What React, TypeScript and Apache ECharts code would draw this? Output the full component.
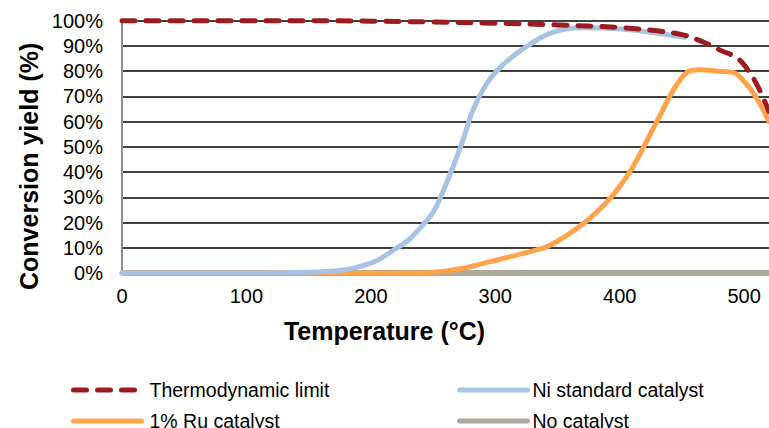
import React, { useEffect, useRef } from "react";
import * as echarts from "echarts";

// Temperature (°C) / conversion yield (%) readings
const thermoT = [0, 50, 100, 150, 200, 250, 300, 350, 400, 430, 450, 465, 480, 495, 505, 512, 520];
const thermoV = [100, 100, 100, 100, 99.8, 99.5, 99, 98.3, 97.3, 96, 94.5, 92, 88.5, 85, 79, 73, 64];

const niT = [0, 100, 150, 175, 190, 205, 218, 230, 240, 250, 256, 266, 274, 282, 293, 304, 320, 344, 371, 398, 425, 452];
const niV = [0, 0, 0.3, 1, 2.4, 5, 9, 13, 18, 24, 30, 42, 52.6, 64.5, 75, 81.5, 88, 95, 97.2, 96.8, 95.4, 93.4];

const ruT = [0, 240, 255, 275, 296, 320, 344, 371, 393, 409, 422, 433, 443, 454, 465, 479, 491, 500, 511, 520];
const ruV = [0, 0, 0.5, 2, 4.5, 7.5, 11, 19.7, 30, 40.8, 52.6, 63, 72.4, 79.5, 80.6, 80, 79.5, 76, 68.5, 60];

const noneT = [0, 520];
const noneV = [0, 0];

const seriesNames = ["Thermodynamic limit", "Ni standard catalyst", "1% Ru catalyst", "No catalyst"];
const xTicks = { min: 0, max: 520, interval: 100 };
const yTicks = { min: 0, max: 100, interval: 10 };

const pair = (xs: number[], ys: number[]) => xs.map((x, i) => [x, ys[i]]);

const FONT = "Liberation Sans, Arial, sans-serif";

const legendFor = (name: string, left: number, top: number, textPad: number) => ({
  left,
  top,
  padding: 0,
  orient: "horizontal",
  itemWidth: 68,
  itemHeight: 14,
  data: [name],
  itemStyle: { opacity: 0 },
  lineStyle: { width: 5, cap: "round" },
  textStyle: { color: "#000", fontSize: 19.5, fontFamily: FONT, padding: [0, 0, 0, textPad] },
});

export default function App() {
  const ref = useRef<HTMLDivElement>(null);
  useEffect(() => {
    if (!ref.current) return;
    const chart = echarts.init(ref.current, undefined, { renderer: "svg" });
    chart.setOption({
      animation: false,
      backgroundColor: "#ffffff",
      textStyle: { fontFamily: FONT },
      grid: { left: 122, top: 20.7, right: 0, bottom: 155, containLabel: false },
      xAxis: {
        type: "value",
        min: xTicks.min,
        max: xTicks.max,
        interval: xTicks.interval,
        axisLine: { show: false },
        axisTick: { show: false },
        splitLine: { show: false },
        axisLabel: { color: "#000", fontSize: 20, fontFamily: FONT, margin: 13, showMaxLabel: false },
      },
      yAxis: {
        type: "value",
        min: yTicks.min,
        max: yTicks.max,
        interval: yTicks.interval,
        axisLine: { show: true, lineStyle: { color: "#8c8c8c", width: 2 } },
        axisTick: { show: false },
        splitLine: { show: true, lineStyle: { color: "#000", width: 1.5 } },
        axisLabel: { color: "#000", fontSize: 20, fontFamily: FONT, margin: 19, formatter: "{value}%" },
      },
      legend: [
        legendFor(seriesNames[0], 71, 380, 3),
        legendFor(seriesNames[2], 71, 411, 3),
        legendFor(seriesNames[1], 457, 380, 0),
        legendFor(seriesNames[3], 457, 411, 0),
      ],
      graphic: [
        {
          type: "text",
          left: "center",
          top: 318,
          style: { text: "Temperature (°C)", font: `bold 25px ${FONT}`, fill: "#000" },
        },
        {
          type: "text",
          x: 16,
          y: 290,
          rotation: Math.PI / 2,
          style: { text: "Conversion yield (%)", font: `bold 25px ${FONT}`, fill: "#000", verticalAlign: "top" },
        },
      ],
      series: [
        {
          name: seriesNames[3],
          type: "line",
          data: pair(noneT, noneV),
          symbol: "none",
          clip: false,
          z: 2,
          lineStyle: { color: "#ada99e", width: 6 },
          itemStyle: { color: "#ada99e" },
        },
        {
          name: seriesNames[2],
          type: "line",
          data: pair(ruT, ruV),
          symbol: "none",
          smooth: 0.35,
          z: 3,
          lineStyle: { color: "#ffa34b", width: 5, cap: "round" },
          itemStyle: { color: "#ffa34b" },
        },
        {
          name: seriesNames[1],
          type: "line",
          data: pair(niT, niV),
          symbol: "none",
          smooth: 0.35,
          z: 4,
          lineStyle: { color: "#a7c2e2", width: 5, cap: "round" },
          itemStyle: { color: "#a7c2e2" },
        },
        {
          name: seriesNames[0],
          type: "line",
          data: pair(thermoT, thermoV),
          symbol: "none",
          smooth: 0.35,
          z: 5,
          clip: false,
          lineStyle: { color: "#9c1b1f", width: 5, type: [13, 11], cap: "round" },
          itemStyle: { color: "#9c1b1f" },
        },
      ],
    });
    return () => chart.dispose();
  }, []);
  return (
    <div
      ref={ref}
      style={{ position: "fixed", left: 0, top: 0, width: 769, height: 428, background: "#fff" }}
    />
  );
}
